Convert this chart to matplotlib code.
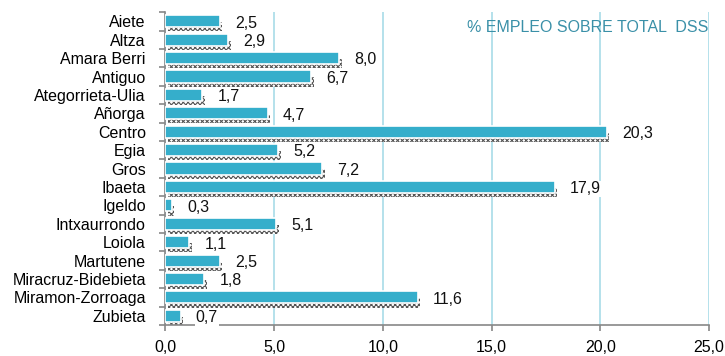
import numpy as np
import matplotlib.pyplot as plt

plt.rcParams['font.family'] = ['Liberation Sans', 'DejaVu Sans']
plt.rcParams['hatch.linewidth'] = 0.8

barrios = ["Aiete", "Altza", "Amara Berri", "Antiguo", "Ategorrieta-Ulia", "Añorga",
           "Centro", "Egia", "Gros", "Ibaeta", "Igeldo", "Intxaurrondo", "Loiola",
           "Martutene", "Miracruz-Bidebieta", "Miramon-Zorroaga", "Zubieta"]
empleo = [2.5, 2.9, 8.0, 6.7, 1.7, 4.7, 20.3, 5.2, 7.2, 17.9, 0.3, 5.1, 1.1, 2.5, 1.8, 11.6, 0.7]
xticks = [0, 5, 10, 15, 20, 25]

fig = plt.figure(figsize=(7.25, 3.56), dpi=100)
ax = fig.add_axes([0.228, 0.087, 0.750, 0.879])

y = np.arange(len(barrios))
# sombra punteada
ax.barh(y + 0.3, empleo, left=0.12, height=0.5, color='white', edgecolor='#555555',
        hatch='xxxxxxx', linewidth=0, zorder=2)
ax.barh(y, empleo, height=0.66, color='#35aecb', edgecolor='white', linewidth=1.2, zorder=3)

for yi, v in zip(y, empleo):
    ax.text(v + 0.7, yi + 0.1, f"{v:.1f}".replace('.', ','), va='center', ha='left',
            fontsize=11.5, color='#111111', zorder=4,
            bbox=dict(facecolor='white', edgecolor='none', pad=0.5))

ax.set_xlim(0, 25)
ax.set_ylim(len(barrios) - 0.5, -0.5)
ax.set_xticks(xticks)
ax.set_xticklabels([f"{t:.1f}".replace('.', ',') for t in xticks], fontsize=11.5)
ax.set_yticks(y)
ax.set_yticklabels(barrios, fontsize=11.5)
ax.set_yticks(np.arange(len(barrios) + 1) - 0.5, minor=True)
ax.tick_params(axis='y', which='major', length=0, pad=14)
ax.tick_params(axis='y', which='minor', length=4, color='#888888', width=1.2)
ax.tick_params(axis='x', length=4, color='#888888', width=1.2, pad=7)

ax.grid(axis='x', color='#a8dbe8', linewidth=1.2, zorder=0)
ax.set_axisbelow(True)
for s in ['top', 'right']:
    ax.spines[s].set_visible(False)
for s in ['left', 'bottom']:
    ax.spines[s].set_color('#888888')
    ax.spines[s].set_linewidth(1.2)

ax.text(0.998, 0.95, "% EMPLEO SOBRE TOTAL  DSS", transform=ax.transAxes, ha='right',
        va='center', fontsize=11.5, color='#3a90a8', zorder=1)

fig.savefig("out.png", dpi=100)
